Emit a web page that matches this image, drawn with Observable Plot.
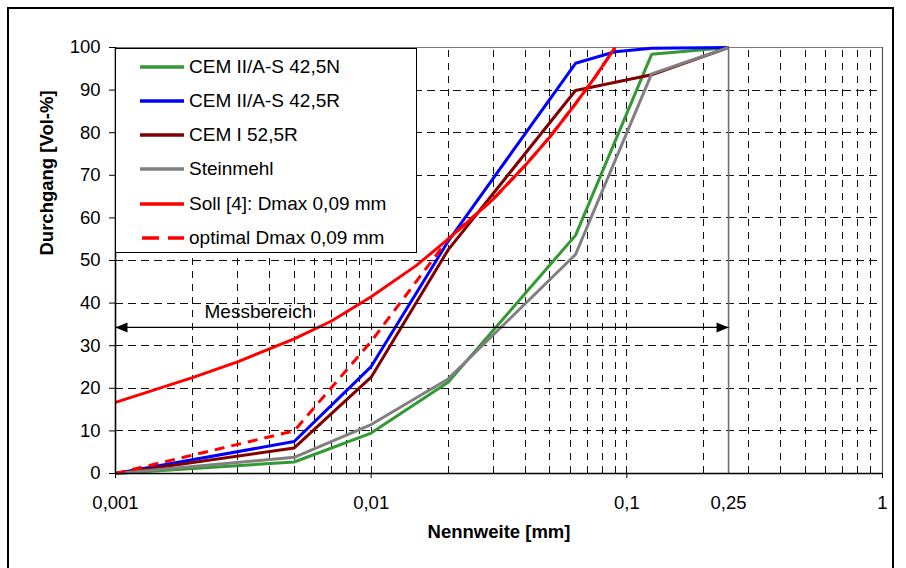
<!DOCTYPE html>
<html>
<head>
<meta charset="utf-8">
<script src="https://cdn.jsdelivr.net/npm/d3@7"></script>
<script src="https://cdn.jsdelivr.net/npm/@observablehq/plot@0.6"></script>
<style>
  html, body { margin: 0; padding: 0; background: white; }
  #wrap { position: relative; width: 906px; height: 568px; overflow: hidden; font-family: "Liberation Sans", Arial, sans-serif; }
  #frame { position: absolute; left: 7px; top: 7px; width: 887px; height: 600px; border: 2.5px solid #000; box-sizing: border-box; pointer-events: none; }
  #legend { position: absolute; left: 115px; top: 48px; width: 302px; height: 205px; border: 1px solid #000; background: #fff; box-sizing: border-box; }
  .row { position: absolute; left: 0; height: 24px; display: flex; align-items: center; font-size: 19px; color: #000; white-space: nowrap; }
  .row svg { margin-left: 24px; margin-right: 5px; }
</style>
</head>
<body>
<div id="wrap"></div>
<script>
// ---- data ----
const xTicks = [0.001, 0.01, 0.1, 1];
const extraXTick = [0.25];
const yTicks = [0, 10, 20, 30, 40, 50, 60, 70, 80, 90, 100];

const sizesMeasured = [0.001, 0.005, 0.01, 0.02, 0.063, 0.125, 0.25];
const cemIIAS425N = [0, 2.7, 9.5, 21.4, 55.9, 98.4, 100];
const cemI525R    = [0, 6.0, 22.6, 52.5, 89.9, 93.6, 100];
const steinmehl   = [0, 3.8, 11.5, 22.2, 51.4, 93.8, 100];

const sizesR = [0.001, 0.005, 0.01, 0.02, 0.063, 0.09, 0.125, 0.25];
const cemIIAS425R = [0, 7.5, 25.1, 54.5, 96.3, 99.0, 99.8, 100];

const sizesSoll = [0.001, 0.002, 0.003, 0.005, 0.007, 0.01, 0.015, 0.02, 0.03, 0.04, 0.05, 0.063, 0.075, 0.09];
const soll      = [16.7, 22.5, 26.2, 31.6, 35.8, 41.5, 48.8, 55.0, 64.4, 72.3, 79.0, 86.8, 93.0, 100];

const sizesOpt = [0.001, 0.005, 0.01, 0.02, 0.03, 0.04, 0.05, 0.063, 0.075, 0.09];
const optimal  = [0, 10.0, 31.0, 55.0, 64.4, 72.3, 79.0, 86.8, 93.0, 100];

const seriesNames = ["CEM II/A-S 42,5N", "CEM II/A-S 42,5R", "CEM I 52,5R", "Steinmehl", "Soll [4]: Dmax 0,09 mm", "optimal Dmax 0,09 mm"];
const seriesColors = ["#339933", "#0000ff", "#800000", "#808080", "#ff0000", "#ff0000"];
const seriesDash = [null, null, null, null, null, "10,7"];

// Messbereich annotation
const messbereich = { x1: 0.001, x2: 0.25, y: 34.3, label: "Messbereich", labelX: 0.00362 };

// ---- build tables ----
const toRows = (xs, ys) => xs.map((x, i) => ({ x, y: ys[i] }));
const seriesData = [
  toRows(sizesMeasured, cemIIAS425N),
  toRows(sizesR, cemIIAS425R),
  toRows(sizesMeasured, cemI525R),
  toRows(sizesMeasured, steinmehl),
  toRows(sizesSoll, soll),
  toRows(sizesOpt, optimal)
];

// log grid positions (2..9 of each decade plus inner decades)
const vGrid = [];
for (let e = -3; e < 0; e++) for (let m = 1; m <= 9; m++) {
  const v = m * Math.pow(10, e);
  if (v > 0.001 + 1e-12) vGrid.push(v);
}
const hGrid = yTicks.filter(d => d > 0 && d < 100);

const fmt = d => String(d).replace(".", ",");
const FONT = 18.5;

const lineMarks = seriesData.map((rows, i) =>
  Plot.line(rows, { x: "x", y: "y", stroke: seriesColors[i], strokeWidth: 3, strokeDasharray: seriesDash[i] ?? undefined, strokeLinejoin: "miter", strokeLinecap: "butt" })
);

const chart = Plot.plot({
  width: 906,
  height: 568,
  marginLeft: 115,
  marginRight: 24,
  marginTop: 47,
  marginBottom: 95,
  x: { type: "log", domain: [0.001, 1] },
  y: { domain: [0, 100] },
  style: { fontFamily: "'Liberation Sans', Arial, sans-serif", background: "transparent", overflow: "visible" },
  marks: [
    Plot.ruleX(vGrid, { y1: 0, y2: 100, stroke: "#111", strokeWidth: 1, strokeDasharray: "7,6", shapeRendering: "crispEdges" }),
    Plot.ruleY(hGrid, { stroke: "#111", strokeWidth: 1, strokeDasharray: "8,5", shapeRendering: "crispEdges" }),
    Plot.ruleY([100], { stroke: "#7a7a7a", strokeWidth: 1.2 }),
    Plot.ruleX([1], { y1: 0, y2: 100, stroke: "#555", strokeWidth: 1.2 }),
    Plot.ruleX(extraXTick, { y1: 0, y2: 100, stroke: "#6e6e6e", strokeWidth: 1.6 }),
    ...lineMarks,
    Plot.link([messbereich], { x1: "x1", x2: "x2", y1: "y", y2: "y", stroke: "#000", strokeWidth: 1.3 }),
    Plot.vector([messbereich], { x: "x2", y: "y", rotate: 90, length: 12, r: 5, shape: "spike", anchor: "end", fill: "#000", stroke: "none" }),
    Plot.vector([messbereich], { x: "x1", y: "y", rotate: -90, length: 12, r: 5, shape: "spike", anchor: "end", fill: "#000", stroke: "none" }),
    Plot.text([messbereich], { x: "labelX", y: "y", text: "label", dy: -15, fontSize: 19, fill: "#000" }),
    Plot.ruleY([0], { stroke: "#000", strokeWidth: 1.6 }),
    Plot.ruleX([0.001], { y1: 0, y2: 100, stroke: "#000", strokeWidth: 1.6 }),
    Plot.axisY({ ticks: yTicks, tickSize: 6, tickPadding: 9, fontSize: FONT, label: null, stroke: "#000", fill: "#000" }),
    Plot.axisX({ ticks: xTicks, tickSize: 5, tickPadding: 17, tickFormat: fmt, fontSize: FONT, label: null, stroke: "#000", fill: "#000" }),
    Plot.axisX({ ticks: extraXTick, tickSize: 0, tickPadding: 22, tickFormat: fmt, fontSize: FONT, label: null, fill: "#000" }),
    Plot.text(["Durchgang [Vol-%]"], { frameAnchor: "left", text: d => d, rotate: -90, dx: -68, dy: -5, fontSize: 18.5, fontWeight: "bold", fill: "#000" }),
    Plot.text(["Nennweite [mm]"], { frameAnchor: "bottom", text: d => d, dy: 64, fontSize: 18.5, fontWeight: "bold", fill: "#000" })
  ]
});

const wrap = document.getElementById("wrap");
wrap.appendChild(chart);

// legend
const legend = document.createElement("div");
legend.id = "legend";
seriesNames.forEach((name, i) => {
  const row = document.createElement("div");
  row.className = "row";
  row.style.top = (17.5 + i * 34.3 - 12) + "px";
  const dash = i === 5 ? 'stroke-dasharray="17,9" stroke-dashoffset="-2"' : "";
  row.innerHTML = `<svg width="44" height="8"><line x1="0" x2="44" y1="4" y2="4" stroke="${seriesColors[i]}" stroke-width="3.5" ${dash}/></svg><span>${name}</span>`;
  legend.appendChild(row);
});
wrap.appendChild(legend);

const frame = document.createElement("div");
frame.id = "frame";
wrap.appendChild(frame);
</script>
</body>
</html>
